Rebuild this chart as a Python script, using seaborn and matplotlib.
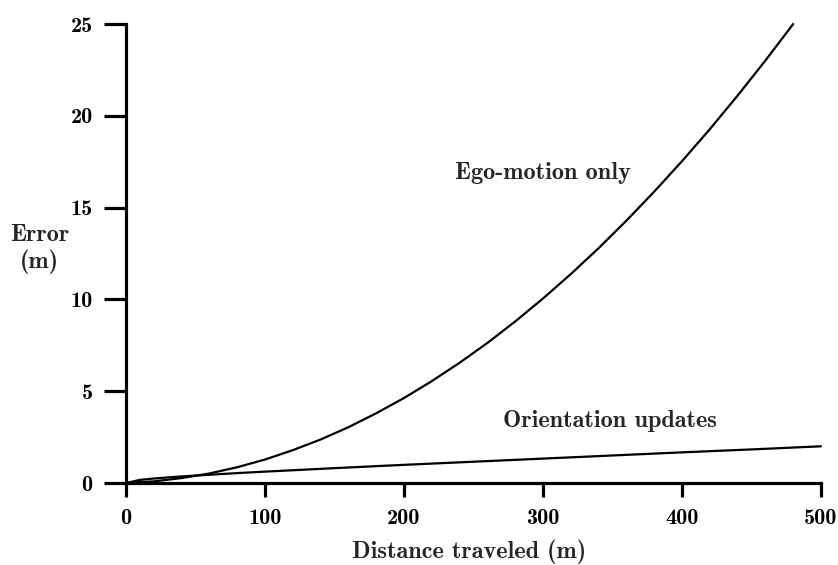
import matplotlib
matplotlib.use("Agg")
import matplotlib.pyplot as plt
import seaborn as sns
import pandas as pd

# Data
ego_x = [0, 20, 40, 60, 80, 100, 120, 140, 160, 180, 200, 220, 240, 260, 280,
         300, 320, 340, 360, 380, 400, 420, 440, 460, 480]
ego_y = [0.0, 0.09, 0.27, 0.52, 0.86, 1.28, 1.79, 2.37, 3.04, 3.80, 4.63, 5.55,
         6.55, 7.63, 8.80, 10.05, 11.38, 12.79, 14.29, 15.87, 17.53, 19.27,
         21.10, 23.01, 25.0]
ori_x = [0, 10, 20, 40, 60, 80, 100, 150, 200, 250, 300, 350, 400, 450, 500]
ori_y = [0.0, 0.17, 0.245, 0.36, 0.45, 0.54, 0.62, 0.81, 0.99, 1.16, 1.33,
         1.50, 1.67, 1.83, 2.0]
x_ticks = [0, 100, 200, 300, 400, 500]
y_ticks = [0, 5, 10, 15, 20, 25]
series_names = ["Ego-motion only", "Orientation updates"]

df = pd.concat([
    pd.DataFrame({"x": ego_x, "y": ego_y, "s": series_names[0]}),
    pd.DataFrame({"x": ori_x, "y": ori_y, "s": series_names[1]}),
])

sns.set_style("ticks")
FONT = "cmb10"
plt.rcParams["font.family"] = [FONT, "DejaVu Serif"]

TICK_FS = 16
TEXT_FS = 17.5

fig = plt.figure(figsize=(8.38, 5.65), dpi=100)
ax = fig.add_axes([0.1504, 0.1451, 0.9797 - 0.1504, 0.9575 - 0.1451])

sns.lineplot(data=df, x="x", y="y", hue="s", palette=["black", "black"],
             linewidth=1.6, legend=False, ax=ax, sort=False, estimator=None)
for ln in ax.get_lines():
    ln.set_clip_on(False)

ax.set_xlim(0, 500)
ax.set_ylim(0, 25)
ax.set_xticks(x_ticks)
ax.set_yticks(y_ticks)
ax.set_xticklabels([str(t) for t in x_ticks], fontsize=TICK_FS, family=FONT)
ax.set_yticklabels([str(t) for t in y_ticks], fontsize=TICK_FS, family=FONT)

for side in ["top", "right"]:
    ax.spines[side].set_visible(False)
for side in ["left", "bottom"]:
    ax.spines[side].set_linewidth(2.3)
    ax.spines[side].set_color("black")

ax.tick_params(axis="x", direction="out", length=10, width=2.3, pad=9, colors="black")
ax.tick_params(axis="y", direction="out", length=16, width=2.3, pad=8, colors="black")

ax.set_xlabel("Distance traveled (m)", fontsize=TEXT_FS, family=FONT, va="center")
ax.xaxis.set_label_coords(0.493, -0.150)
ax.set_ylabel("Error\n(m)", fontsize=TEXT_FS, family=FONT, rotation=0,
              ha="center", va="center", linespacing=1.15)
ax.yaxis.set_label_coords(-0.124, 0.51)

ax.text(300, 16.9, series_names[0], fontsize=TEXT_FS, family=FONT, ha="center", va="center")
ax.text(348, 3.38, series_names[1], fontsize=TEXT_FS, family=FONT, ha="center", va="center")

fig.savefig("out.png", dpi=100, facecolor="white")
